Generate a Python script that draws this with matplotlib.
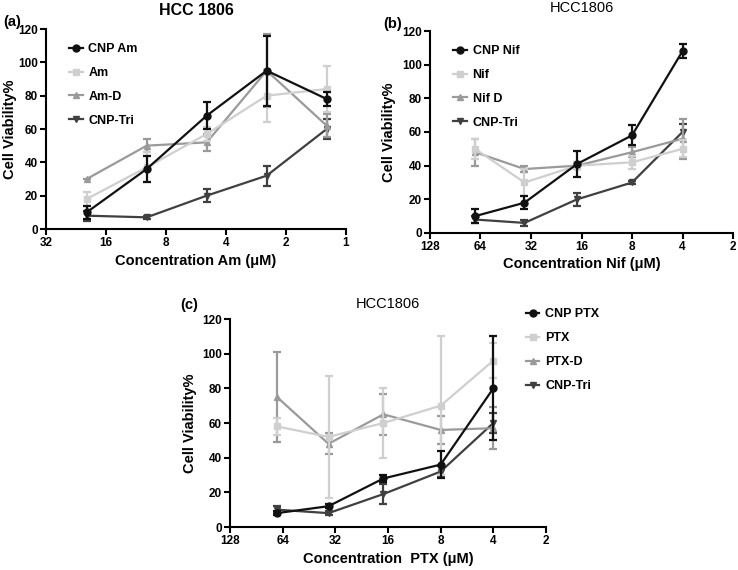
import matplotlib
matplotlib.use('Agg')
import matplotlib.pyplot as plt
import numpy as np

plt.rcParams['font.family'] = ['Liberation Sans', 'DejaVu Sans']

# panel (a) - Am
a_conc = [20, 10, 5, 2.5, 1.25]
a_cnp = [10, 36, 68, 95, 78]
a_cnp_err = [4, 8, 8, 21, 4]
a_drug = [18, 37, 57, 80, 84]
a_drug_err = [4, 9, 4, 16, 14]
a_d = [30, 50, 52, 95, 62]
a_d_err = [0, 4, 5, 22, 7]
a_tri = [8, 7, 20, 32, 60]
a_tri_err = [3, 1, 4, 6, 6]
a_ticks = [32, 16, 8, 4, 2, 1]

# panel (b) - Nif
b_conc = [69, 35, 17, 8, 4]
b_cnp = [10, 18, 41, 58, 108]
b_cnp_err = [4, 4, 8, 6, 4]
b_drug = [50, 30, 40, 42, 50]
b_drug_err = [6, 8, 2, 4, 5]
b_d = [48, 38, 40, 48, 56]
b_d_err = [8, 2, 2, 3, 12]
b_tri = [8, 6, 20, 30, 60]
b_tri_err = [2, 2, 4, 1, 5]
b_ticks = [128, 64, 32, 16, 8, 4, 2]

# panel (c) - PTX
c_conc = [69, 35, 17, 8, 4]
c_cnp = [8, 12, 28, 36, 80]
c_cnp_err = [1, 1, 2, 8, 30]
c_drug = [58, 52, 60, 70, 96]
c_drug_err = [5, 35, 20, 40, 10]
c_d = [75, 48, 65, 56, 57]
c_d_err = [26, 6, 12, 8, 12]
c_tri = [10, 8, 19, 32, 60]
c_tri_err = [2, 1, 6, 3, 6]
c_ticks = [128, 64, 32, 16, 8, 4, 2]

W, H = 738, 570
fig = plt.figure(figsize=(W / 100, H / 100), dpi=100)


def box(x0, x1, ytop, ybot):
    return [x0 / W, 1 - ybot / H, (x1 - x0) / W, (ybot - ytop) / H]


colors = ['#111111', '#cfcfcf', '#9a9a9a', '#404040']
markers = ['o', 's', '^', 'v']


def panel(ax, conc, series, ticks, xlabel, ylab_x):
    handles = {}
    for i in [3, 2, 1, 0]:
        y, err = series[i]
        h = ax.errorbar(conc, y, yerr=err, color=colors[i], marker=markers[i],
                        markersize=5, lw=1.6, elinewidth=1.6, capsize=3,
                        capthick=1.6, zorder=3 + (3 - i))
        handles[i] = h[0]
    ax.set_xscale('log', base=2)
    ax.set_xlim(ticks[0], ticks[-1])
    ax.set_xticks(ticks)
    ax.set_xticklabels([str(t) for t in ticks])
    ax.minorticks_off()
    ax.set_ylim(0, 120)
    ax.set_yticks(range(0, 121, 20))
    for s in ['top', 'right']:
        ax.spines[s].set_visible(False)
    for s in ['left', 'bottom']:
        ax.spines[s].set_linewidth(1.5)
    ax.tick_params(width=1.5, length=4, labelsize=8.5, pad=2)
    for lab in ax.get_xticklabels() + ax.get_yticklabels():
        lab.set_fontweight('bold')
    ax.set_xlabel(xlabel, fontsize=10.5, fontweight='bold', labelpad=3)
    ax.set_ylabel('Cell Viability%', fontsize=10.5, fontweight='bold')
    ax.yaxis.set_label_coords(ylab_x, 0.5)
    return [handles[i] for i in range(4)]


def legend(ax, h, labels, anchor):
    ax.legend(h, labels, loc='upper left', bbox_to_anchor=anchor, frameon=False,
              handlelength=1.1, handletextpad=0.45, labelspacing=0.95,
              borderaxespad=0, prop={'size': 9, 'weight': 'bold'})


# (a)
ax1 = fig.add_axes(box(46, 346, 29, 229))
h = panel(ax1, a_conc,
          [(a_cnp, a_cnp_err), (a_drug, a_drug_err), (a_d, a_d_err), (a_tri, a_tri_err)],
          a_ticks, 'Concentration Am (\u03bcM)', -0.097)
legend(ax1, h, ['CNP Am', 'Am', 'Am-D', 'CNP-Tri'], (0.06, 0.955))
ax1.set_title('HCC 1806', fontsize=11.5, fontweight='bold', pad=10)

# (b)
ax2 = fig.add_axes(box(430, 733, 31, 233))
h = panel(ax2, b_conc,
          [(b_cnp, b_cnp_err), (b_drug, b_drug_err), (b_d, b_d_err), (b_tri, b_tri_err)],
          b_ticks, 'Concentration Nif (\u03bcM)', -0.112)
legend(ax2, h, ['CNP Nif', 'Nif', 'Nif D', 'CNP-Tri'], (0.06, 0.955))
ax2.set_title('HCC1806', fontsize=10.5, pad=14)

# (c)
ax3 = fig.add_axes(box(230, 546, 319, 527))
h = panel(ax3, c_conc,
          [(c_cnp, c_cnp_err), (c_drug, c_drug_err), (c_d, c_d_err), (c_tri, c_tri_err)],
          c_ticks, 'Concentration  PTX (\u03bcM)', -0.104)
legend(ax3, h, ['CNP PTX', 'PTX', 'PTX-D', 'CNP-Tri'], (0.92, 1.075))
ax3.set_title('HCC1806', fontsize=10.5, pad=8)

fig.text(3 / W, 1 - 22 / H, '(a)', fontsize=10.5, fontweight='bold', va='center')
fig.text(383 / W, 1 - 24 / H, '(b)', fontsize=10.5, fontweight='bold', va='center')
fig.text(180 / W, 1 - 305 / H, '(c)', fontsize=10.5, fontweight='bold', va='center')

fig.savefig('out.png', dpi=100)
